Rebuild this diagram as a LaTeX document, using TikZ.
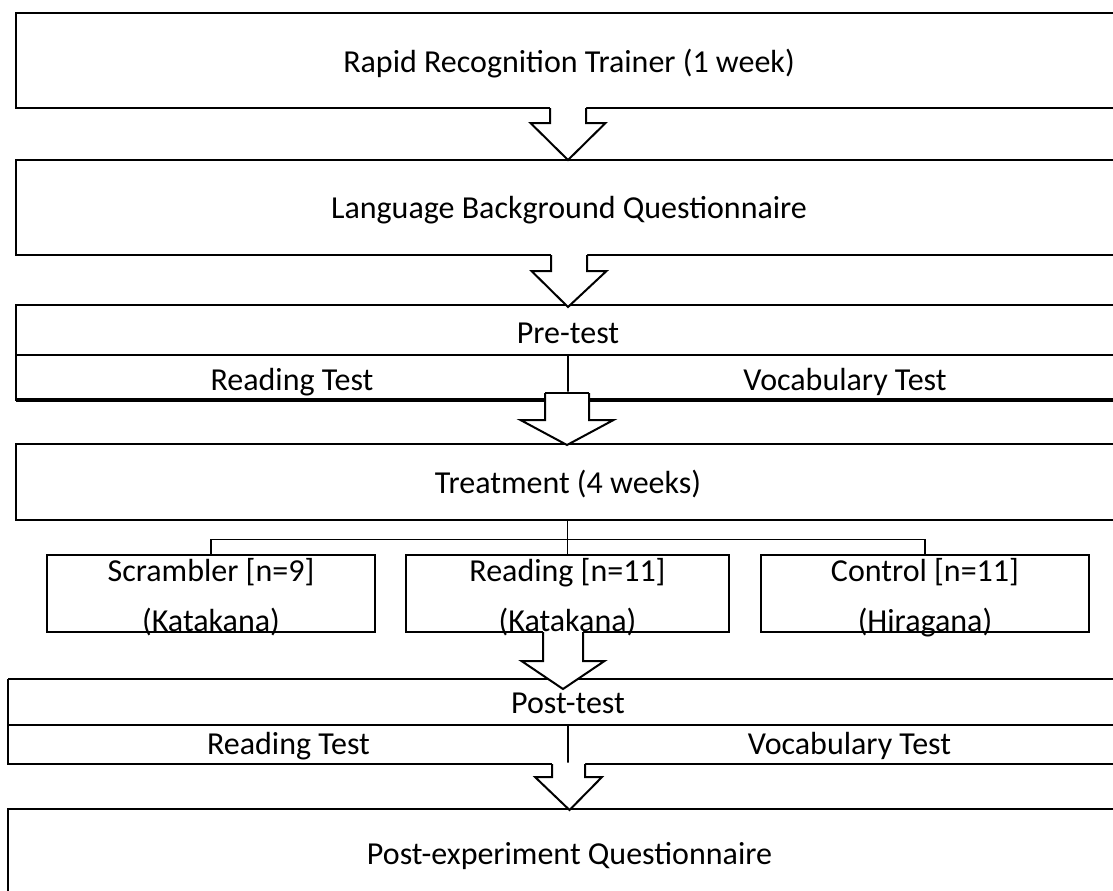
\documentclass[tikz,border=0pt]{standalone}
\usepackage{fontspec}
\setmainfont{Carlito}
\usetikzlibrary{calc}

\newcommand\U{0.75pt}
% block arrow: #1 top centre, #2 half shaft width, #3 shoulder drop,
% #4 half head width, #5 tip, #6 extra options for the outline
\newcommand\flowarrow[6]{%
  \fill[white] ($#1+(-#2,-1.5)$) -- ($#1+(-#2,#3)$) -- ($#1+(-#4,#3)$) -- #5
    -- ($#1+(#4,#3)$) -- ($#1+(#2,#3)$) -- ($#1+(#2,-1.5)$) -- cycle;
  \draw[arrowline,#6] ($#1+(-#2,0)$) -- ($#1+(-#2,#3)$) -- ($#1+(-#4,#3)$) -- #5
    -- ($#1+(#4,#3)$) -- ($#1+(#2,#3)$) -- ($#1+(#2,0)$);}

\begin{document}
\begin{tikzpicture}[x=0.75pt,y=-0.75pt,
  box/.style={draw, line width=1.5pt, inner sep=0pt, outer sep=0pt},
  frame/.style={inner sep=0pt, outer sep=0pt},
  txt/.style={inner sep=0pt, text height=15.5pt, text depth=0pt,
    font=\fontsize{24}{29}\selectfont},
  thinline/.style={line width=1pt},
  arrowline/.style={draw, line width=1.5pt, line join=miter}]
\useasboundingbox (0,0) rectangle (1113,890);
\clip (0,0) rectangle (1113,890);

% main stage boxes
\node[box, minimum width=1106*\U, minimum height=95*\U] (rrt) at (569,60.5) {};
\node[box, minimum width=1106*\U, minimum height=95*\U] (lbq) at (569,207.5) {};
\node[box, minimum width=1106*\U, minimum height=95*\U] (pre) at (569,352.5) {};
\node[box, minimum width=1106*\U, minimum height=76*\U] (trt) at (569,482) {};
\node[frame, minimum width=1123*\U, minimum height=85*\U] (post) at (569.5,721.5) {};
\node[box, minimum width=1123*\U, minimum height=90*\U] (pex) at (569.5,854) {};

% treatment groups
\node[box, minimum width=328*\U, minimum height=77*\U] (scr) at (211,593.5) {};
\node[box, minimum width=323*\U, minimum height=77*\U] (rdg) at (567.5,593.5) {};
\node[box, minimum width=328*\U, minimum height=77*\U] (ctl) at (925,593.5) {};

% pre-test subdivisions
\draw[line width=1.5pt] ($(pre.north west)+(0,50)$) -- ($(pre.north east)+(0,50)$);
\draw[line width=1.5pt] (568,355) -- (568,400);
\draw[line width=3pt] (pre.south west) -- (pre.south east);

% post-test frame and subdivisions
\draw[thinline] (post.north west) -- (post.north east);
\draw[line width=1.5pt] (post.north west) -- (post.south west) -- (post.south east);
\draw[line width=1.5pt] ($(post.north west)+(0,46)$) -- ($(post.north east)+(0,46)$);
\draw[line width=1.5pt] (568,725) -- (568,764);

% treatment to groups
\coordinate (bus) at (0,539.5);
\draw[thinline] (rdg.north |- trt.south) -- (rdg.north);
\draw[thinline] (scr.north) -- (scr.north |- bus) -- (ctl.north |- bus) -- (ctl.north);

% block arrows between stages
\coordinate (a1top) at ($(rrt.south)+(-1,0)$);
\coordinate (a1tip) at ($(lbq.north)+(-1,0)$);
\flowarrow{(a1top)}{18}{15}{37.5}{(a1tip)}{}
\coordinate (a2top) at ($(lbq.south)+(0,0)$);
\coordinate (a2tip) at ($(pre.north)+(-1,2)$);
\flowarrow{(a2top)}{18}{16}{37.5}{(a2tip)}{}
\coordinate (a3top) at ($(pre.south)+(-2,-7)$);
\coordinate (a3tip) at ($(trt.north)+(-2,1)$);
\flowarrow{(a3top)}{22}{27}{46.5}{(a3tip)}{}
\draw[line width=1.5pt] ($(a3top)+(-22,0)$) -- ($(a3top)+(22,0)$);
\coordinate (a4top) at ($(rdg.south)+(-4.5,0)$);
\coordinate (a4tip) at ($(post.north)+(-6.5,10)$);
\flowarrow{(a4top)}{20}{29}{41.5}{(a4tip)}{}
\coordinate (a5top) at ($(post.south)+(-1,0)$);
\coordinate (a5tip) at ($(pex.north)+(0,1)$);
\flowarrow{(a5top)}{16.5}{13}{33.5}{(a5tip)}{}

% texts
\node[txt] (t-rrt) at (569,62) {Rapid Recognition Trainer (1 week)};
\node[txt] (t-lbq) at (569,208) {Language Background Questionnaire};
\node[txt] (t-pre) at (568,333) {Pre-test};
\node[txt] (t-prer) at (292,380) {Reading Test};
\node[txt] (t-prev) at (845,380) {Vocabulary Test};
\node[txt] (t-trt) at (568,483) {Treatment (4 weeks)};
\node[txt] (t-scr1) at (211,571) {Scrambler [n=9]};
\node[txt] (t-scr2) at (211,621) {(Katakana)};
\node[txt] (t-rdg1) at (567.5,571) {Reading [n=11]};
\node[txt] (t-rdg2) at (567.5,621) {(Katakana)};
\node[txt] (t-ctl1) at (925,571) {Control [n=11]};
\node[txt] (t-ctl2) at (925,621) {(Hiragana)};
\node[txt] (t-post) at (568,703) {Post-test};
\node[txt] (t-postr) at (288.5,744) {Reading Test};
\node[txt] (t-postv) at (849.5,744) {Vocabulary Test};
\node[txt] (t-pex) at (569.5,854) {Post-experiment Questionnaire};
\end{tikzpicture}
\end{document}
